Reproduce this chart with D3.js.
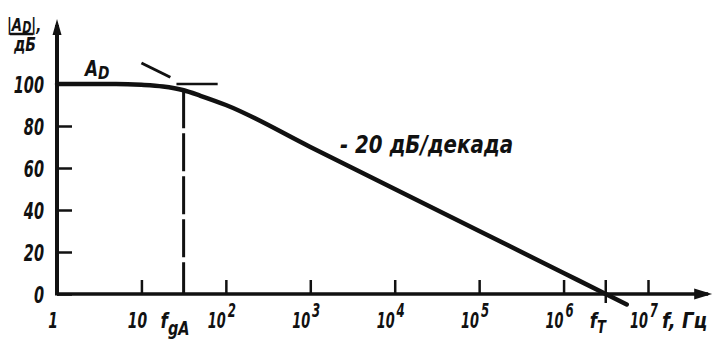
<!DOCTYPE html>
<html lang="ru">
<head>
<meta charset="utf-8">
<title>АЧХ операционного усилителя</title>
<script src="https://cdn.jsdelivr.net/npm/d3@7"></script>
<style>
body{margin:0;background:#fff}
svg text{font-family:"Liberation Sans Narrow","DejaVu Sans Condensed",sans-serif;font-style:italic;font-weight:bold;fill:#111}
</style>
</head>
<body>
<div id="chart"></div>
<script>
var w = 724, h = 342;

// y ticks, дБ
var yTicks = [0, 20, 40, 60, 80, 100];
// x ticks, Гц (decades)
var xTicks = [10, 1e2, 1e3, 1e4, 1e5, 1e6, 1e7];
var xLabelBase = ["1", "10", "10", "10", "10", "10", "10", "10"];
var xLabelSup  = ["",  "",   "2",  "3",  "4",  "5",  "6",  "7"];
var xLabelAt   = [1, 10, 1e2, 1e3, 1e4, 1e5, 1e6, 1e7];

// |A_D| curve
var respF  = [1, 5, 10, 18, 31.6, 50, 100, 1e3, 1e4, 1e5, 1e6, 3.16e6, 5.6e6];
var respDb = [100, 100, 99.6, 98.8, 97, 94.4, 90, 70, 50, 30, 10, 0, -5];

// asymptote extension above the knee, horizontal A_D extension
var asymF  = [10, 22];
var asymDb = [110, 103.2];
var flatF  = [26, 80];
var flatDb = [100, 100];

var fgA = 31.6, fT = 3.16e6;

// narrow the wide fallback font to the drafting look
function squeeze(sel, k) {
  sel.each(function() {
    var l = this.getComputedTextLength();
    d3.select(this).attr("textLength", l * k).attr("lengthAdjust", "spacingAndGlyphs");
  });
}

var svg = d3.select("#chart").append("svg")
  .attr("width", w).attr("height", h);

var x = d3.scaleLog().domain([1, 1e7]).range([57, 648]);
var y = d3.scaleLinear().domain([0, 100]).range([294, 84]);

var ink = "#111";

// axes lines with arrows
var xEnd = x(Math.pow(10, 7.76));
svg.append("line")
  .attr("x1", x(1)).attr("y1", y(0)).attr("x2", xEnd - 4).attr("y2", y(0))
  .attr("stroke", ink).attr("stroke-width", 3.5);
svg.append("path")
  .attr("d", "M" + xEnd + "," + y(0) + "l-18,-5.5l0,11z")
  .attr("fill", ink);
var yTop = y(131);
svg.append("line")
  .attr("x1", x(1)).attr("y1", y(0) + 1.5).attr("x2", x(1)).attr("y2", yTop + 6)
  .attr("stroke", ink).attr("stroke-width", 4);
svg.append("path")
  .attr("d", "M" + x(1) + "," + yTop + "l-4.5,16l9,0z")
  .attr("fill", ink);

// y ticks and labels
var yAxis = svg.append("g")
  .attr("transform", "translate(" + x(1) + ",0)")
  .call(d3.axisLeft(y).tickValues(yTicks).tickSizeInner(-15).tickSizeOuter(0).tickPadding(13));
yAxis.attr("font-family", null).attr("font-size", null);
yAxis.select(".domain").remove();
yAxis.selectAll(".tick line").attr("stroke", ink).attr("stroke-width", 2.5);
yAxis.selectAll(".tick text")
  .attr("font-size", 23).attr("dy", "0.36em").attr("fill", null)
  .call(squeeze, 0.7);

// x ticks
var xAxis = svg.append("g")
  .attr("transform", "translate(0," + y(0) + ")")
  .call(d3.axisBottom(x).tickValues(xTicks).tickSizeInner(-14).tickSizeOuter(0).tickFormat(""));
xAxis.select(".domain").remove();
xAxis.selectAll(".tick line").attr("stroke", ink).attr("stroke-width", 2.5);

// fT tick crosses the axis
svg.append("line")
  .attr("x1", x(fT)).attr("x2", x(fT))
  .attr("y1", y(0) - 14).attr("y2", y(0) + 9)
  .attr("stroke", ink).attr("stroke-width", 2.5);

// x labels, power of ten as a raised tspan
var xl = svg.append("g").selectAll("text")
  .data(xLabelAt)
  .enter().append("text")
  .attr("x", function(d, i) { return xLabelSup[i] ? x(d) + 10 : x(d) - 4; })
  .attr("y", 328)
  .attr("font-size", 22)
  .attr("text-anchor", function(d, i) { return xLabelSup[i] ? "end" : "middle"; })
  .text(function(d, i) { return xLabelBase[i]; });
xl.filter(function(d, i) { return xLabelSup[i]; })
  .append("tspan")
  .attr("dx", 3).attr("dy", -11).attr("font-size", 20)
  .text(function(d) { return xLabelSup[xLabelAt.indexOf(d)]; });
xl.call(squeeze, 0.7);

// response curve
var line = d3.line()
  .x(function(d) { return x(d[0]); })
  .y(function(d) { return y(d[1]); });

svg.append("path")
  .datum(d3.zip(respF, respDb))
  .attr("d", line.curve(d3.curveMonotoneX))
  .attr("fill", "none").attr("stroke", ink).attr("stroke-width", 4.5)
  .attr("stroke-linecap", "round");

var straight = d3.line()
  .x(function(d) { return x(d[0]); })
  .y(function(d) { return y(d[1]); });
svg.append("path")
  .datum(d3.zip(asymF, asymDb))
  .attr("d", straight)
  .attr("fill", "none").attr("stroke", ink).attr("stroke-width", 3);
svg.append("path")
  .datum(d3.zip(flatF, flatDb))
  .attr("d", straight)
  .attr("fill", "none").attr("stroke", ink).attr("stroke-width", 2.5);

// dashed line at fgA
svg.append("line")
  .attr("x1", x(fgA)).attr("x2", x(fgA))
  .attr("y1", y(97)).attr("y2", y(0))
  .attr("stroke", ink).attr("stroke-width", 3)
  .attr("stroke-dasharray", "38,5");

// labels
var t1 = svg.append("text").attr("x", 85).attr("y", 76).attr("font-size", 22).text("A");
t1.append("tspan").attr("dy", 3).attr("font-size", 18).text("D");
squeeze(t1, 0.85);

var tg = svg.append("text").attr("x", x(fgA) - 23).attr("y", 328).attr("font-size", 22).text("f");
tg.append("tspan").attr("dy", 7).attr("font-size", 19).text("gA");
squeeze(tg, 0.85);

var tt = svg.append("text").attr("x", x(fT) - 16).attr("y", 328).attr("font-size", 22).text("f");
tt.append("tspan").attr("dy", 5).attr("font-size", 17).text("T");
squeeze(tt, 0.85);

svg.append("text").attr("x", 662).attr("y", 328).attr("font-size", 22).text("f, Гц")
  .call(squeeze, 0.92);

svg.append("text").attr("x", 340).attr("y", 153).attr("font-size", 24).text("- 20 дБ/декада")
  .attr("textLength", 173).attr("lengthAdjust", "spacingAndGlyphs");

// y axis title |A_D| over дБ, one text block
var ty = svg.append("text").attr("x", 7).attr("y", 31).attr("font-size", 18);
ty.append("tspan").text("|A");
ty.append("tspan").attr("dy", 2).attr("font-size", 15).text("D");
ty.append("tspan").attr("dy", -2).text("|,");
ty.append("tspan").attr("x", 14).attr("dy", 20).attr("font-size", 19).text("дБ");
ty.selectAll("tspan").attr("lengthAdjust", "spacingAndGlyphs")
  .each(function() {
    d3.select(this).attr("textLength", this.getComputedTextLength() * 0.82);
  });
svg.append("line")
  .attr("x1", 10).attr("x2", 33).attr("y1", 34).attr("y2", 34)
  .attr("stroke", ink).attr("stroke-width", 2.5);
</script>
</body>
</html>
